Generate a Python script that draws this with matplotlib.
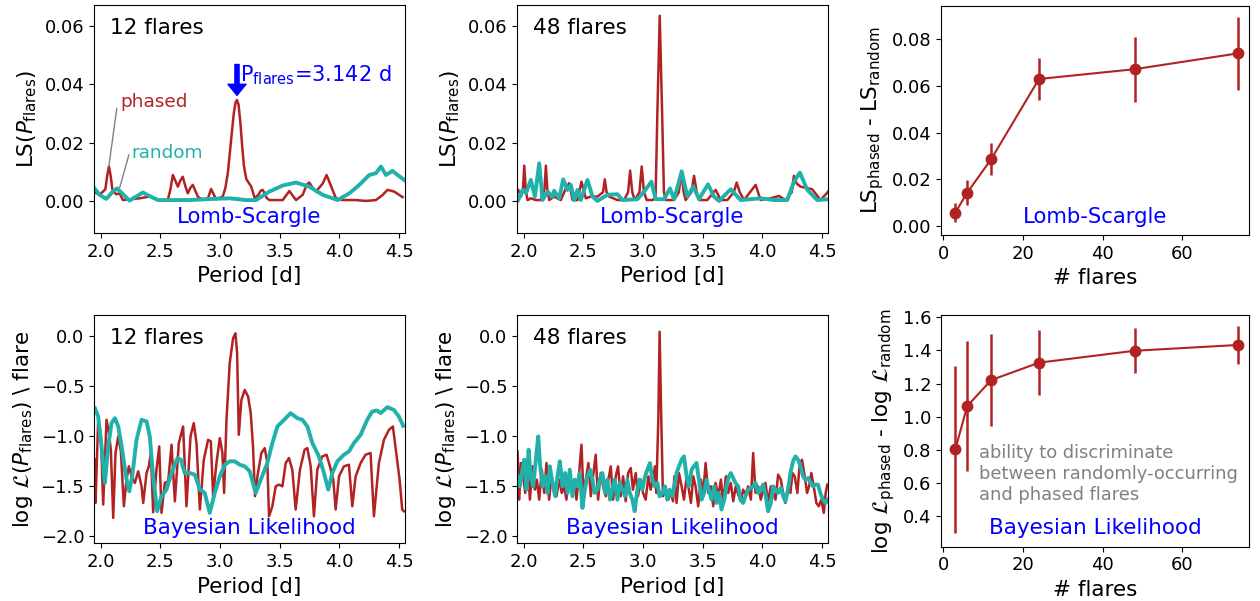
import matplotlib
matplotlib.use('Agg')
import matplotlib.pyplot as plt

# --- Lomb-Scargle, 12 flares ---
ls12_phased_p = [1.941, 1.992, 2.040, 2.055, 2.070, 2.085, 2.100, 2.131, 2.159, 2.187,
                 2.326, 2.410, 2.493, 2.563, 2.585, 2.605, 2.625, 2.647, 2.668, 2.688,
                 2.710, 2.730, 2.752, 2.772, 2.793, 2.814, 2.856, 2.900, 2.925, 2.950,
                 2.967, 3.023, 3.045, 3.065, 3.093, 3.115, 3.130, 3.142, 3.155, 3.170,
                 3.185, 3.200, 3.220, 3.260, 3.290, 3.320, 3.340, 3.357, 3.375, 3.390,
                 3.413, 3.525, 3.555, 3.580, 3.605, 3.636, 3.692, 3.725, 3.747, 3.775,
                 3.803, 3.860, 3.892, 3.930, 3.970, 4.026, 4.137, 4.221, 4.305, 4.360,
                 4.402, 4.458, 4.528]
ls12_phased = [0.0032, 0.0021, 0.0040, 0.0085, 0.0118, 0.0085, 0.0035, 0.0023, 0.0026, 0.0003,
               0.0009, 0.0015, 0.0003, 0.0003, 0.0040, 0.0089, 0.0070, 0.0049, 0.0070, 0.0083,
               0.0050, 0.0026, 0.0045, 0.0055, 0.0035, 0.0015, 0.0003, 0.0010, 0.0041, 0.0020,
               0.0006, 0.0015, 0.0045, 0.0095, 0.0210, 0.0300, 0.0338, 0.0346, 0.0330, 0.0270,
               0.0190, 0.0120, 0.0075, 0.0050, 0.0010, 0.0020, 0.0035, 0.0038, 0.0025, 0.0010,
               0.0003, 0.0003, 0.0020, 0.0034, 0.0020, 0.0003, 0.0021, 0.0055, 0.0063, 0.0045,
               0.0032, 0.0060, 0.0089, 0.0050, 0.0009, 0.0003, 0.0003, 0.0000, 0.0003, 0.0020,
               0.0038, 0.0032, 0.0013]
ls12_random_p = [1.941, 1.992, 2.047, 2.103, 2.137, 2.173, 2.242, 2.298, 2.354, 2.410,
                 2.479, 2.605, 2.744, 2.884, 3.079, 3.218, 3.302, 3.413, 3.525, 3.636,
                 3.747, 3.859, 3.984, 4.082, 4.166, 4.249, 4.305, 4.347, 4.389, 4.444,
                 4.486, 4.542]
ls12_random = [0.0047, 0.0021, 0.0007, 0.0032, 0.0043, 0.0029, 0.0001, 0.0015, 0.0029, 0.0017,
               0.0003, 0.0003, 0.0003, 0.0006, 0.0009, 0.0003, 0.0003, 0.0032, 0.0053, 0.0063,
               0.0049, 0.0021, 0.0003, 0.0026, 0.0055, 0.0089, 0.0095, 0.0118, 0.0089, 0.0103,
               0.0089, 0.0072]

# --- Lomb-Scargle, 48 flares ---
ls48_phased_p = [1.955, 1.978, 1.995, 2.006, 2.018, 2.033, 2.061, 2.103, 2.145, 2.175,
                 2.187, 2.199, 2.215, 2.256, 2.312, 2.354, 2.382, 2.410, 2.452, 2.485,
                 2.521, 2.563, 2.619, 2.665, 2.680, 2.695, 2.716, 2.786, 2.842, 2.875,
                 2.892, 2.910, 2.931, 2.970, 2.989, 3.008, 3.031, 3.079, 3.105, 3.120,
                 3.140, 3.160, 3.175, 3.190, 3.260, 3.300, 3.321, 3.340, 3.357, 3.405,
                 3.427, 3.450, 3.469, 3.538, 3.608, 3.650, 3.706, 3.760, 3.784, 3.810,
                 3.845, 3.943, 3.984, 4.068, 4.138, 4.193, 4.245, 4.263, 4.285, 4.319,
                 4.416, 4.486, 4.550]
ls48_phased = [0.0038, 0.0015, 0.0040, 0.0121, 0.0040, 0.0003, 0.0009, 0.0003, 0.0003, 0.0040,
               0.0121, 0.0040, 0.0003, 0.0015, 0.0003, 0.0043, 0.0061, 0.0003, 0.0003, 0.0066,
               0.0009, 0.0015, 0.0015, 0.0030, 0.0074, 0.0030, 0.0015, 0.0003, 0.0003, 0.0030,
               0.0104, 0.0030, 0.0003, 0.0030, 0.0118, 0.0030, 0.0003, 0.0003, 0.0010, 0.0300,
               0.0635, 0.0300, 0.0030, 0.0003, 0.0003, 0.0030, 0.0103, 0.0030, 0.0003, 0.0030,
               0.0086, 0.0030, 0.0003, 0.0003, 0.0038, 0.0003, 0.0003, 0.0030, 0.0063, 0.0030,
               0.0003, 0.0055, 0.0003, 0.0009, 0.0017, 0.0003, 0.0030, 0.0086, 0.0060, 0.0049,
               0.0040, 0.0003, 0.0032]
ls48_random_p = [1.955, 1.992, 2.020, 2.061, 2.095, 2.131, 2.159, 2.201, 2.242, 2.256,
                 2.298, 2.332, 2.368, 2.396, 2.424, 2.452, 2.479, 2.535, 2.577, 2.619,
                 2.702, 2.786, 2.828, 2.953, 3.009, 3.070, 3.106, 3.176, 3.226, 3.260,
                 3.324, 3.371, 3.421, 3.469, 3.544, 3.594, 3.636, 3.734, 3.817, 3.901,
                 3.984, 4.096, 4.207, 4.263, 4.313, 4.375, 4.458, 4.550]
ls48_random = [0.0003, 0.0038, 0.0026, 0.0072, 0.0015, 0.0129, 0.0003, 0.0032, 0.0015, 0.0035,
               0.0009, 0.0074, 0.0038, 0.0055, 0.0003, 0.0038, 0.0003, 0.0072, 0.0015, 0.0000,
               0.0021, 0.0023, 0.0003, 0.0006, 0.0032, 0.0066, 0.0006, 0.0006, 0.0043, 0.0006,
               0.0101, 0.0015, 0.0049, 0.0006, 0.0057, 0.0015, 0.0000, 0.0040, 0.0003, 0.0006,
               0.0009, 0.0003, 0.0003, 0.0066, 0.0097, 0.0038, 0.0003, 0.0006]

# --- Bayesian likelihood, 12 flares ---
bl12_phased_p = [1.953, 1.958, 1.980, 2.003, 2.022, 2.050, 2.070, 2.086, 2.106, 2.125,
                 2.148, 2.170, 2.195, 2.217, 2.237, 2.259, 2.287, 2.315, 2.343, 2.357,
                 2.385, 2.404, 2.421, 2.440, 2.468, 2.491, 2.510, 2.538, 2.566, 2.594,
                 2.622, 2.655, 2.691, 2.719, 2.753, 2.780, 2.803, 2.831, 2.864, 2.900,
                 2.923, 2.942, 2.970, 2.998, 3.020, 3.034, 3.054, 3.081, 3.109, 3.129,
                 3.143, 3.157, 3.179, 3.207, 3.235,
                 3.257, 3.276, 3.293, 3.313, 3.346, 3.374, 3.396, 3.410, 3.438, 3.466,
                 3.494, 3.522, 3.550, 3.577, 3.605, 3.633, 3.669, 3.708, 3.731, 3.759,
                 3.786, 3.814, 3.856, 3.892, 3.920, 3.948, 3.968, 3.996, 4.037, 4.079,
                 4.107, 4.135, 4.177, 4.218, 4.260, 4.288, 4.330, 4.372, 4.414, 4.447,
                 4.475, 4.503, 4.525, 4.539]
bl12_phased = [-1.236, -1.668, -0.837, -1.003, -1.684, -0.837, -0.970, -1.136, -1.817, -1.169,
               -1.003, -1.153, -1.701, -1.435, -1.302, -1.402, -1.468, -1.352, -1.502, -1.668,
               -1.369, -1.302, -1.169, -1.761, -1.336, -1.103, -1.767, -1.468, -1.452, -1.086,
               -1.651, -1.070, -0.904, -1.701, -1.003, -0.870, -1.070, -1.734, -1.236, -1.037,
               -1.053, -1.601, -1.269, -1.020, -1.169, -1.568, -0.837, -0.272, -0.023, 0.027,
               -0.173, -0.987, -0.638, -0.538, -0.605,
               -0.771, -1.103, -1.601, -1.402, -1.169, -1.120, -1.269, -1.801, -1.701, -1.502,
               -1.485, -1.502, -1.269, -1.219, -1.336, -1.734, -1.336, -1.136, -1.120, -1.302,
               -1.801, -1.336, -1.203, -1.186, -1.302, -1.435, -1.734, -1.402, -1.302, -1.286,
               -1.701, -1.402, -1.269, -1.186, -1.169, -1.801, -1.269, -1.037, -0.937, -0.904,
               -1.169, -1.435, -1.734, -1.751]
bl12_random_p = [1.953, 1.980, 2.008, 2.036, 2.064, 2.092, 2.120, 2.148, 2.181, 2.212,
                 2.240, 2.265, 2.301, 2.343, 2.385, 2.412, 2.440, 2.474, 2.510, 2.552,
                 2.594, 2.644, 2.672, 2.705, 2.747, 2.789, 2.831, 2.872, 2.914, 2.956,
                 2.998, 3.040, 3.081, 3.123, 3.165, 3.207, 3.249,
                 3.299, 3.341, 3.396, 3.438, 3.480, 3.536, 3.591, 3.647, 3.689, 3.731,
                 3.773, 3.828, 3.870, 3.906, 3.940, 3.982, 4.037, 4.079, 4.121, 4.177,
                 4.232, 4.274, 4.316, 4.344, 4.400, 4.455, 4.497, 4.533]
bl12_random = [-0.721, -0.804, -1.103, -1.468, -1.103, -0.870, -0.821, -0.904, -1.136, -1.402,
               -1.551, -1.402, -1.037, -0.837, -0.854, -1.003, -1.402, -1.751, -1.601, -1.535,
               -1.369, -1.219, -1.236, -1.369, -1.369, -1.385, -1.535, -1.568, -1.767, -1.568,
               -1.402, -1.286, -1.252, -1.252, -1.286, -1.302, -1.352,
               -1.568, -1.435, -1.269, -1.070, -0.904, -0.837, -0.771, -0.821, -0.837, -0.904,
               -1.070, -1.203, -1.369, -1.535, -1.369, -1.252, -1.186, -1.153, -1.070, -0.987,
               -0.837, -0.754, -0.744, -0.771, -0.711, -0.738, -0.804, -0.897]

# --- Bayesian likelihood, 48 flares ---
bl48_phased_p = [1.950, 1.964, 1.978, 1.997, 2.014, 2.033, 2.053, 2.075, 2.095, 2.111,
                 2.131, 2.153, 2.173, 2.192, 2.214, 2.234, 2.256, 2.276, 2.298, 2.320,
                 2.340, 2.359, 2.382, 2.404, 2.423, 2.443, 2.465, 2.485, 2.501, 2.521,
                 2.543, 2.563, 2.582, 2.604, 2.624, 2.646, 2.666, 2.688, 2.710, 2.730,
                 2.749, 2.772, 2.791, 2.813, 2.833, 2.855, 2.875, 2.897, 2.916, 2.939,
                 2.958, 2.981, 3.000, 3.022, 3.045, 3.064, 3.084, 3.100, 3.111, 3.128,
                 3.139, 3.153, 3.167, 3.189, 3.212, 3.231, 3.251,
                 3.262, 3.281, 3.301, 3.323, 3.343, 3.365, 3.384, 3.401, 3.421, 3.440,
                 3.462, 3.485, 3.504, 3.524, 3.546, 3.568, 3.588, 3.607, 3.630, 3.652,
                 3.671, 3.694, 3.713, 3.735, 3.755, 3.777, 3.797, 3.819, 3.838, 3.858,
                 3.880, 3.903, 3.922, 3.942, 3.964, 3.986, 4.006, 4.025, 4.047, 4.070,
                 4.089, 4.109, 4.131, 4.153, 4.173, 4.192, 4.214, 4.234, 4.251, 4.270,
                 4.292, 4.312, 4.331, 4.354, 4.373, 4.390, 4.409, 4.429, 4.451, 4.471,
                 4.493, 4.513, 4.529, 4.543]
bl48_phased = [-1.153, -1.635, -1.269, -1.402, -1.568, -1.236, -1.635, -1.302, -1.535, -1.435,
               -1.635, -1.336, -1.568, -1.269, -1.635, -1.402, -1.502, -1.601, -1.435, -1.568,
               -1.502, -1.635, -1.369, -1.568, -1.435, -1.635, -1.369, -1.086, -1.568, -1.435,
               -1.269, -1.601, -1.402, -1.186, -1.635, -1.369, -1.502, -1.601, -1.435, -1.302,
               -1.635, -1.402, -1.302, -1.601, -1.402, -1.651, -1.369, -1.319, -1.535, -1.369,
               -1.601, -1.435, -1.568, -1.635, -1.402, -1.535, -1.435, -1.302, -1.568, -0.837,
               0.043, -0.837, -1.601, -1.535, -1.635, -1.568, -1.651,
               -1.402, -1.668, -1.369, -1.502, -1.635, -1.402, -1.535, -1.668, -1.402, -1.502,
               -1.701, -1.435, -1.568, -1.269, -1.568, -1.502, -1.701, -1.468, -1.601, -1.435,
               -1.668, -1.402, -1.568, -1.468, -1.651, -1.502, -1.585, -1.651, -1.535, -1.585,
               -1.502, -1.635, -1.169, -1.568, -1.502, -1.635, -1.535, -1.468, -1.651, -1.502,
               -1.568, -1.635, -1.385, -1.435, -1.568, -1.668, -1.502, -1.568, -1.369, -1.402,
               -1.568, -1.269, -1.236, -1.402, -1.568, -1.502, -1.369, -1.502, -1.668, -1.701,
               -1.635, -1.767, -1.568, -1.485]
bl48_random_p = [1.950, 1.969, 1.986, 2.006, 2.025, 2.042, 2.061, 2.081, 2.103, 2.123,
                 2.139, 2.159, 2.181, 2.201, 2.220, 2.242, 2.265, 2.284, 2.304, 2.326,
                 2.348, 2.368, 2.387, 2.409, 2.432, 2.451, 2.471, 2.493, 2.513, 2.535,
                 2.557, 2.577, 2.596, 2.618, 2.638, 2.660, 2.682, 2.702, 2.724, 2.744,
                 2.763, 2.786, 2.805, 2.827, 2.850, 2.869, 2.889, 2.911, 2.930, 2.953,
                 2.972, 2.994, 3.017, 3.036, 3.058, 3.078, 3.100, 3.120, 3.139, 3.162,
                 3.184, 3.203, 3.223, 3.245,
                 3.262, 3.281, 3.301, 3.323, 3.343, 3.365, 3.384, 3.407, 3.426, 3.448,
                 3.468, 3.490, 3.512, 3.532, 3.551, 3.574, 3.596, 3.616, 3.635, 3.657,
                 3.680, 3.699, 3.719, 3.735, 3.755, 3.774, 3.797, 3.816, 3.838, 3.858,
                 3.880, 3.903, 3.922, 3.942, 3.964, 3.986, 4.006, 4.028, 4.047, 4.070,
                 4.089, 4.109, 4.131, 4.153, 4.173, 4.192, 4.214, 4.234, 4.256, 4.276,
                 4.298, 4.318, 4.340, 4.359, 4.382, 4.404, 4.423, 4.443, 4.465, 4.484,
                 4.507, 4.529, 4.548]
bl48_random = [-1.402, -1.502, -1.369, -1.236, -1.535, -1.136, -1.402, -1.502, -1.236, -1.003,
               -1.302, -1.502, -1.402, -1.568, -1.302, -1.468, -1.601, -1.402, -1.252, -1.502,
               -1.369, -1.568, -1.336, -1.601, -1.435, -1.502, -1.369, -1.718, -1.535, -1.402,
               -1.336, -1.435, -1.568, -1.535, -1.435, -1.369, -1.568, -1.435, -1.635, -1.535,
               -1.435, -1.635, -1.468, -1.535, -1.601, -1.435, -1.568, -1.635, -1.751, -1.535,
               -1.435, -1.535, -1.402, -1.336, -1.269, -1.435, -1.502, -1.468, -1.601, -1.568,
               -1.502, -1.635, -1.535, -1.601,
               -1.502, -1.369, -1.302, -1.236, -1.203, -1.402, -1.502, -1.336, -1.302, -1.269,
               -1.435, -1.635, -1.568, -1.435, -1.535, -1.635, -1.502, -1.668, -1.568, -1.734,
               -1.635, -1.502, -1.402, -1.369, -1.419, -1.468, -1.502, -1.635, -1.668, -1.601,
               -1.535, -1.518, -1.502, -1.468, -1.568, -1.535, -1.485, -1.601, -1.751, -1.668,
               -1.502, -1.535, -1.568, -1.518, -1.601, -1.651, -1.535, -1.369, -1.252, -1.203,
               -1.236, -1.302, -1.402, -1.435, -1.419, -1.468, -1.502, -1.485, -1.485, -1.568,
               -1.635, -1.668, -1.635]

# --- summary vs number of flares ---
n_flares = [3, 6, 12, 24, 48, 74]
ls_diff = [0.0057, 0.0143, 0.0286, 0.0630, 0.0672, 0.0740]
ls_err = [0.0040, 0.0052, 0.0069, 0.0092, 0.0140, 0.0157]
bl_diff = [0.803, 1.064, 1.221, 1.326, 1.398, 1.433]
bl_err = [0.505, 0.390, 0.278, 0.195, 0.136, 0.115]

RED = 'firebrick'
TEAL = 'lightseagreen'
TICK = 13
LAB = 15.5

fig = plt.figure(figsize=(12.6, 6.01), dpi=100)
ax1 = fig.add_axes([0.0746, 0.6123, 0.2468, 0.3794])
ax2 = fig.add_axes([0.4103, 0.6123, 0.2468, 0.3794])
ax3 = fig.add_axes([0.7468, 0.6090, 0.2444, 0.3810])
ax4 = fig.add_axes([0.0746, 0.0957, 0.2468, 0.3800])
ax5 = fig.add_axes([0.4103, 0.0957, 0.2468, 0.3800])
ax6 = fig.add_axes([0.7468, 0.0904, 0.2444, 0.3855])

panels = [(ax1, ls12_phased_p, ls12_phased, ls12_random_p, ls12_random, '12 flares'),
          (ax2, ls48_phased_p, ls48_phased, ls48_random_p, ls48_random, '48 flares'),
          (ax4, bl12_phased_p, bl12_phased, bl12_random_p, bl12_random, '12 flares'),
          (ax5, bl48_phased_p, bl48_phased, bl48_random_p, bl48_random, '48 flares')]

for ax, pp, vp, pr, vr, lab in panels:
    ax.plot(pp, vp, color=RED, lw=1.8)
    ax.plot(pr, vr, color=TEAL, lw=2.8)
    ax.set_xlim(1.945, 4.548)
    ax.set_xticks([2.0, 2.5, 3.0, 3.5, 4.0, 4.5])
    ax.set_xlabel('Period [d]', fontsize=LAB)
    ax.text(0.05, 0.9, lab, transform=ax.transAxes, fontsize=15.5, va='center', ha='left')
    ax.tick_params(labelsize=TICK)

for ax in (ax1, ax2):
    ax.set_ylim(-0.011, 0.0672)
    ax.set_yticks([0.0, 0.02, 0.04, 0.06])
    ax.set_ylabel(r'LS($P_{\rm flares}$)', fontsize=LAB)
    ax.text(0.5, 0.07, 'Lomb-Scargle', transform=ax.transAxes, color='blue',
            fontsize=15.3, ha='center', va='center')

for ax in (ax4, ax5):
    ax.set_ylim(-2.073, 0.209)
    ax.set_yticks([-2.0, -1.5, -1.0, -0.5, 0.0])
    ax.set_ylabel(r'log $\mathcal{L}(P_{\rm flares})$ \ flare', fontsize=LAB)
    ax.text(0.5, 0.068, 'Bayesian Likelihood', transform=ax.transAxes, color='blue',
            fontsize=15.5, ha='center', va='center')

# annotations in the 12-flare Lomb-Scargle panel
ax1.annotate('', xy=(3.142, 0.0362), xytext=(3.142, 0.0468),
             arrowprops=dict(color='blue', width=3, headwidth=13, headlength=8))
ax1.text(3.17, 0.0409, r'P$_{\rm flares}$=3.142 d', color='blue', fontsize=15,
         va='baseline', ha='left')
ax1.text(2.165, 0.034, 'phased', color=RED, fontsize=13.3, va='center', ha='left')
ax1.annotate('', xy=(2.069, 0.0118), xytext=(2.136, 0.0318),
             arrowprops=dict(arrowstyle='-', color='gray', lw=1, shrinkA=0, shrinkB=0))
ax1.text(2.257, 0.0164, 'random', color=TEAL, fontsize=13.3, va='center', ha='left')
ax1.annotate('', xy=(2.159, 0.0044), xytext=(2.237, 0.0158),
             arrowprops=dict(arrowstyle='-', color='gray', lw=1, shrinkA=0, shrinkB=0))

# summary panels
ax3.errorbar(n_flares, ls_diff, yerr=ls_err, color=RED, marker='o', ms=7.5, lw=1.5,
             elinewidth=1.8)
ax3.set_xlim(-0.6, 76.7)
ax3.set_ylim(-0.0039, 0.0943)
ax3.set_xticks([0, 20, 40, 60])
ax3.set_yticks([0.0, 0.02, 0.04, 0.06, 0.08])
ax3.set_xlabel('# flares', fontsize=LAB)
ax3.set_ylabel(r'LS$_{\rm phased}$ - LS$_{\rm random}$', fontsize=LAB)
ax3.text(0.5, 0.08, 'Lomb-Scargle', transform=ax3.transAxes, color='blue',
         fontsize=15.3, ha='center', va='center')
ax3.tick_params(labelsize=TICK)

ax6.errorbar(n_flares, bl_diff, yerr=bl_err, color=RED, marker='o', ms=7.5, lw=1.5,
             elinewidth=1.8)
ax6.set_xlim(-0.6, 76.7)
ax6.set_ylim(0.215, 1.614)
ax6.set_xticks([0, 20, 40, 60])
ax6.set_yticks([0.4, 0.6, 0.8, 1.0, 1.2, 1.4, 1.6])
ax6.set_xlabel('# flares', fontsize=LAB)
ax6.set_ylabel(r'log $\mathcal{L}_{\rm phased}$ - log $\mathcal{L}_{\rm random}$',
               fontsize=LAB)
ax6.text(9, 0.835, 'ability to discriminate\nbetween randomly-occurring\nand phased flares',
         color='gray', fontsize=12.9, va='top', ha='left', linespacing=1.2)
ax6.text(0.5, 0.08, 'Bayesian Likelihood', transform=ax6.transAxes, color='blue',
         fontsize=15.5, ha='center', va='center')
ax6.tick_params(labelsize=TICK)

fig.savefig('out.png', dpi=100)
